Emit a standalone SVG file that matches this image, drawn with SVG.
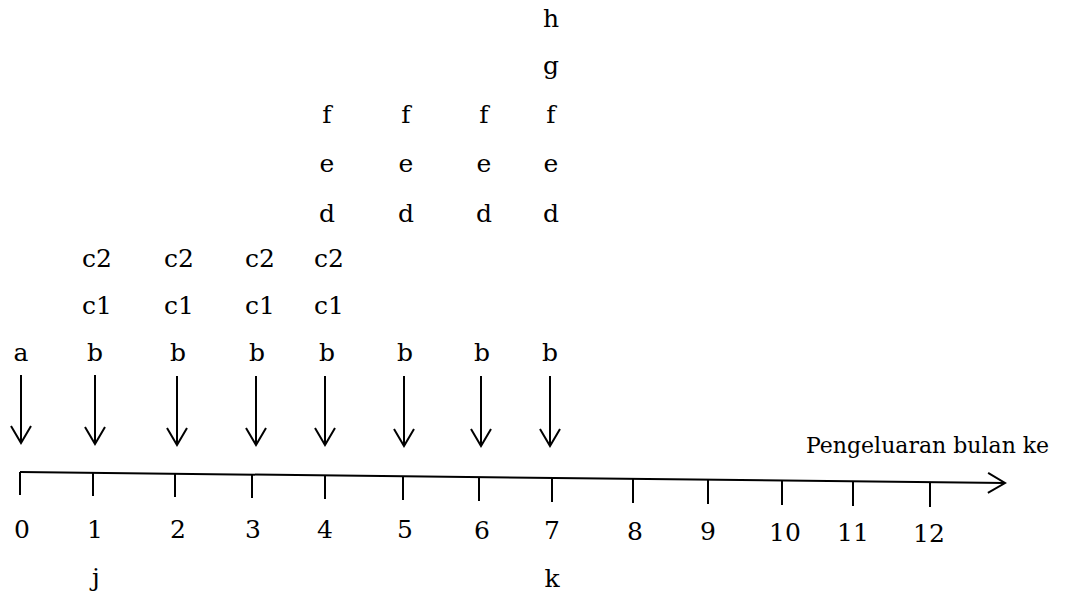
<svg xmlns="http://www.w3.org/2000/svg" width="1070" height="592" viewBox="0 0 1070 592">
<style>
.ln{stroke:#000;stroke-width:2;fill:none}
</style>
<defs>
<marker id="ah" viewBox="0 0 20 24" refX="18" refY="12" markerWidth="20" markerHeight="24" markerUnits="userSpaceOnUse" orient="auto">
<path d="M1,2 L18,12 L1,22" stroke="#000" stroke-width="2" fill="none"/>
</marker>
</defs>
<rect width="1070" height="592" fill="#fff"/>
<g id="connectors">
<line class="ln" x1="21" y1="375" x2="21" y2="443" marker-end="url(#ah)"/>
<line class="ln" x1="95" y1="375" x2="95" y2="444" marker-end="url(#ah)"/>
<line class="ln" x1="177" y1="376" x2="177" y2="445" marker-end="url(#ah)"/>
<line class="ln" x1="256" y1="376" x2="256" y2="445" marker-end="url(#ah)"/>
<line class="ln" x1="325" y1="376" x2="325" y2="445" marker-end="url(#ah)"/>
<line class="ln" x1="404" y1="376" x2="404" y2="446" marker-end="url(#ah)"/>
<line class="ln" x1="481" y1="376" x2="481" y2="446" marker-end="url(#ah)"/>
<line class="ln" x1="550" y1="376" x2="550" y2="446" marker-end="url(#ah)"/>
</g>
<g font-family="DejaVu Serif, Liberation Serif, serif" font-size="25" fill="#000" text-anchor="middle">
<g id="axis">
<line class="ln" x1="20" y1="472" x2="1005" y2="483" marker-end="url(#ah)"/>
<line class="ln" x1="20" y1="472" x2="20" y2="495"/>
<line class="ln" x1="93" y1="473" x2="93" y2="496"/>
<line class="ln" x1="175" y1="474" x2="175" y2="497"/>
<line class="ln" x1="252" y1="475" x2="252" y2="498"/>
<line class="ln" x1="325" y1="476" x2="325" y2="499"/>
<line class="ln" x1="403" y1="476" x2="403" y2="500"/>
<line class="ln" x1="479" y1="477" x2="479" y2="501"/>
<line class="ln" x1="552" y1="478" x2="552" y2="502"/>
<line class="ln" x1="633" y1="479" x2="633" y2="503"/>
<line class="ln" x1="708" y1="480" x2="708" y2="504"/>
<line class="ln" x1="782" y1="481" x2="782" y2="505"/>
<line class="ln" x1="853" y1="481" x2="853" y2="506"/>
<line class="ln" x1="930" y1="482" x2="930" y2="507"/>
<text x="806" y="453" text-anchor="start" font-size="22">Pengeluaran bulan ke</text>
</g>
<g id="tick-labels">
<text x="22" y="538">0</text>
<text x="95" y="538">1</text>
<text x="178" y="538">2</text>
<text x="253" y="538">3</text>
<text x="325" y="538">4</text>
<text x="405" y="538">5</text>
<text x="482" y="539">6</text>
<text x="552" y="539">7</text>
<text x="635" y="540">8</text>
<text x="708" y="540">9</text>
<text x="785" y="541">10</text>
<text x="853" y="541">11</text>
<text x="929" y="542">12</text>
<text x="96" y="586">j</text>
<text x="552" y="587">k</text>
</g>
<g id="month0"><text x="21" y="361">a</text></g>
<g id="month1"><text x="95" y="361">b</text><text x="97" y="314">c1</text><text x="97" y="267">c2</text></g>
<g id="month2"><text x="178" y="361">b</text><text x="179" y="314">c1</text><text x="179" y="267">c2</text></g>
<g id="month3"><text x="257" y="361">b</text><text x="260" y="314">c1</text><text x="260" y="267">c2</text></g>
<g id="month4"><text x="327" y="361">b</text><text x="329" y="314">c1</text><text x="329" y="267">c2</text><text x="327" y="222">d</text><text x="327" y="172">e</text><text x="327" y="123">f</text></g>
<g id="month5"><text x="405" y="361">b</text><text x="406" y="222">d</text><text x="406" y="172">e</text><text x="406" y="123">f</text></g>
<g id="month6"><text x="482" y="361">b</text><text x="484" y="222">d</text><text x="484" y="172">e</text><text x="484" y="123">f</text></g>
<g id="month7"><text x="550" y="361">b</text><text x="551" y="222">d</text><text x="551" y="172">e</text><text x="551" y="123">f</text><text x="551" y="74">g</text><text x="551" y="27">h</text></g>
</g>
</svg>
